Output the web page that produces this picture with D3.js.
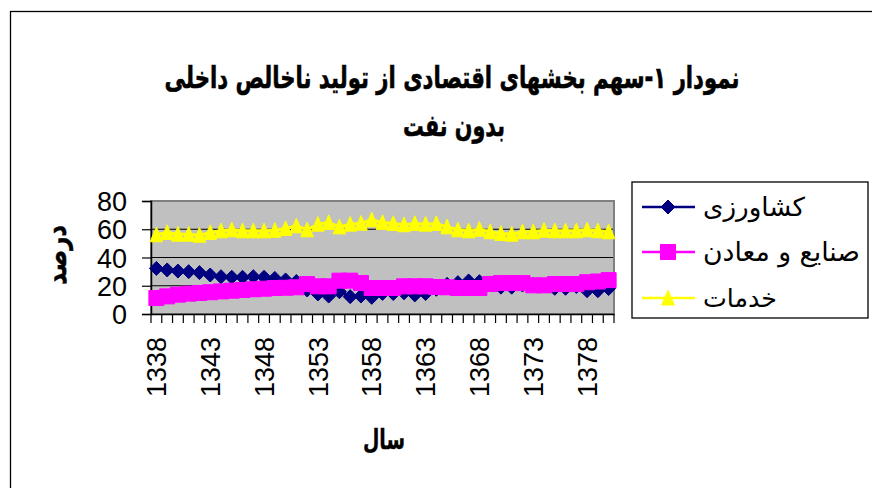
<!DOCTYPE html>
<html><head><meta charset="utf-8">
<script src="https://cdn.jsdelivr.net/npm/d3@7"></script>
<style>body{margin:0;background:#fff}svg{display:block}</style>
</head><body>
<svg id="c" width="872" height="488"></svg>
<script>
const years = [1338,1339,1340,1341,1342,1343,1344,1345,1346,1347,1348,1349,1350,1351,1352,1353,1354,1355,1356,1357,1358,1359,1360,1361,1362,1363,1364,1365,1366,1367,1368,1369,1370,1371,1372,1373,1374,1375,1376,1377,1378,1379,1380];
const keshavarzi = [32.3,31.2,30.4,30.0,29.3,27.6,26.4,26.0,26.0,26.4,26.0,25.2,24.1,23.0,17.0,14.2,12.7,15.8,12.3,12.7,11.8,14.6,14.5,15.0,13.5,14.5,17.5,21.0,22.2,23.4,22.9,22.0,19.0,19.0,20.5,21.0,20.5,18.2,18.2,19.5,16.5,16.5,18.0];
const sanaye = [11.3,12.5,13.7,14.4,14.9,15.4,16.0,16.5,17.0,17.5,17.9,18.4,18.6,18.9,21.2,19.6,19.6,23.6,23.6,21.9,18.4,18.4,18.4,19.6,19.6,19.6,19.1,18.9,18.4,18.4,18.4,21.2,21.9,21.9,21.9,20.3,20.3,21.2,21.2,21.2,22.5,23.0,24.0];
const khadamat = [56.1,57.7,56.5,56.5,55.8,57.7,58.9,59.6,58.9,58.9,58.9,59.3,60.5,62.4,59.6,63.6,64.8,61.7,63.6,64.3,66.7,64.8,64.1,63.2,64.1,63.6,64.1,61.7,59.6,58.9,60.0,58.2,57.0,56.5,58.2,58.2,59.3,58.9,58.9,58.9,59.6,58.9,58.2];
const seriesNames = ["کشاورزی","صنایع و معادن","خدمات"];
const yTicks = [0,20,40,60,80];
const xLabelYears = [1338,1343,1348,1353,1358,1363,1368,1373,1378];
const titleLines = ["نمودار ۱-سهم بخشهای اقتصادی از تولید ناخالص داخلی","بدون نفت"];
const yTitle = "درصد";
const xTitle = "سال";

const colors = ["#000080","#FF00FF","#FFFF00"];
const shapes = ["diamond","square","triangle"];
const seriesData = [keshavarzi, sanaye, khadamat];

const svg = d3.select("#c");
const PF = "'DejaVu Sans', sans-serif";
const NF = "'Liberation Sans', Arial, sans-serif";

// frame
svg.append("rect").attr("x",10.5).attr("y",11.5).attr("width",900).attr("height",600)
  .attr("fill","#fff").attr("stroke","#000").attr("stroke-width",1.3);

const L = 151, R = 614, T = 201, B = 314;
const x = d3.scaleBand().domain(years).range([L,R]).padding(0);
const y = d3.scaleLinear().domain([0,80]).range([B,T]);
const cx = d => x(d) + x.bandwidth()/2;

function fitText(t, w){
  const len = t.node().getComputedTextLength();
  const fs = parseFloat(t.attr("font-size"));
  t.attr("font-size", fs * w / len);
}
// horizontally squeeze/stretch a text (anchored middle at cx,cy) to width w
function scaleToWidth(g, t, w){
  const len = t.node().getComputedTextLength();
  t.attr("transform", `scale(${w/len},1)`);
}

// title
function titleText(str, cxp, cyp, fs, w){
  const g = svg.append("g").attr("transform",`translate(${cxp},${cyp})`);
  const t = g.append("text").attr("x",0).attr("y",0).attr("text-anchor","middle")
    .attr("font-family",PF).attr("font-weight","bold").attr("font-size",fs).attr("direction","rtl")
    .attr("stroke","#000").attr("stroke-width",0.6).text(str);
  scaleToWidth(g, t, w);
  return g;
}
titleText(titleLines[0], 452, 88, 30, 575);
titleText(titleLines[1], 454, 136, 30, 102);

// plot area
svg.append("rect").attr("x",L).attr("y",T).attr("width",R-L).attr("height",B-T).attr("fill","#C0C0C0");
svg.append("g").selectAll("line").data(yTicks.filter(v=>v>0 && v<80)).join("line")
  .attr("x1",L).attr("x2",R).attr("y1",d=>y(d)).attr("y2",d=>y(d)).attr("stroke","#000").attr("stroke-width",1);
svg.append("rect").attr("x",L).attr("y",T).attr("width",R-L).attr("height",B-T)
  .attr("fill","none").attr("stroke","#808080").attr("stroke-width",2);

// y axis
const yAxis = d3.axisLeft(y).tickValues(yTicks).tickSize(9).tickPadding(6);
const gy = svg.append("g").attr("transform",`translate(${L},0)`).call(yAxis);
gy.select(".domain").attr("stroke","#000").attr("stroke-width",1.5);
gy.selectAll(".tick line").attr("stroke","#000").attr("stroke-width",1.2);
gy.selectAll("text").attr("font-family",NF).attr("font-size",27).attr("fill","#000").attr("x",-24).attr("dy","0.36em");

// x axis
const xAxis = d3.axisBottom(x).tickValues([]).tickSize(0);
const gx = svg.append("g").attr("transform",`translate(0,${B})`).call(xAxis);
gx.select(".domain").attr("stroke","#000").attr("stroke-width",1.5);
const bounds = years.map(d=>x(d)).concat([R]);
gx.selectAll("line.tk").data(bounds).join("line").attr("class","tk")
  .attr("x1",d=>d).attr("x2",d=>d).attr("y1",0).attr("y2",9).attr("stroke","#000").attr("stroke-width",1.2);
gx.selectAll("text.lb").data(xLabelYears).join("text").attr("class","lb")
  .attr("transform",d=>`translate(${cx(d)},${23}) rotate(-90)`)
  .attr("text-anchor","end").attr("dy","0.36em")
  .attr("font-family",NF).attr("font-size",27).attr("fill","#000").text(d=>d);

// axis titles
const gyt = svg.append("g").attr("transform","translate(56,255) rotate(-90)");
const yt = gyt.append("text").attr("text-anchor","middle").attr("dy","0.35em")
  .attr("font-family",PF).attr("font-weight","bold").attr("font-size",28).attr("direction","rtl")
  .attr("stroke","#000").attr("stroke-width",0.5).text(yTitle);
scaleToWidth(gyt, yt, 60);
const gxt = svg.append("g").attr("transform","translate(384,449)");
const xt = gxt.append("text").attr("text-anchor","middle")
  .attr("font-family",PF).attr("font-weight","bold").attr("font-size",27).attr("direction","rtl")
  .attr("stroke","#000").attr("stroke-width",0.4).text(xTitle);
scaleToWidth(gxt, xt, 42);

// markers
function markerPath(shape, s){
  if(shape==="diamond") return `M0,${-s*0.5}L${s*0.5},0L0,${s*0.5}L${-s*0.5},0Z`;
  if(shape==="square") return `M${-s*0.5},${-s*0.5}h${s}v${s}h${-s}Z`;
  return `M0,${-s*0.55}L${s*0.45},${s*0.5}L${-s*0.45},${s*0.5}Z`;
}
const msize = [14,15,14];

const line = d3.line().x((d,i)=>cx(years[i])).y(d=>y(d));
seriesData.forEach((data,si)=>{
  const g = svg.append("g");
  g.append("path").datum(data).attr("d",line).attr("fill","none").attr("stroke",colors[si]).attr("stroke-width",3);
  g.selectAll("path.m").data(data).join("path").attr("class","m")
    .attr("transform",(d,i)=>`translate(${cx(years[i])},${y(d)})`)
    .attr("d",markerPath(shapes[si],msize[si])).attr("fill",colors[si]).attr("stroke",colors[si]).attr("stroke-width",1);
});

// legend
svg.append("rect").attr("x",632).attr("y",182).attr("width",236).attr("height",136)
  .attr("fill","#fff").attr("stroke","#000").attr("stroke-width",1.3);
const legY = [207,252,298];
const legW = [102,157,74];
seriesNames.forEach((n,si)=>{
  const g = svg.append("g").attr("transform",`translate(0,${legY[si]})`);
  g.append("line").attr("x1",642).attr("x2",695).attr("y1",0).attr("y2",0).attr("stroke",colors[si]).attr("stroke-width",2.5);
  g.append("path").attr("transform","translate(668,0)").attr("d",markerPath(shapes[si],msize[si]))
    .attr("fill",colors[si]).attr("stroke",colors[si]);
  const t = g.append("text").attr("x",703).attr("y",0).attr("dy","0.35em").attr("text-anchor","start")
    .attr("font-family",PF).attr("font-size",24).attr("fill","#000").text(n);
  fitText(t, legW[si]);
});
</script>
</body></html>
